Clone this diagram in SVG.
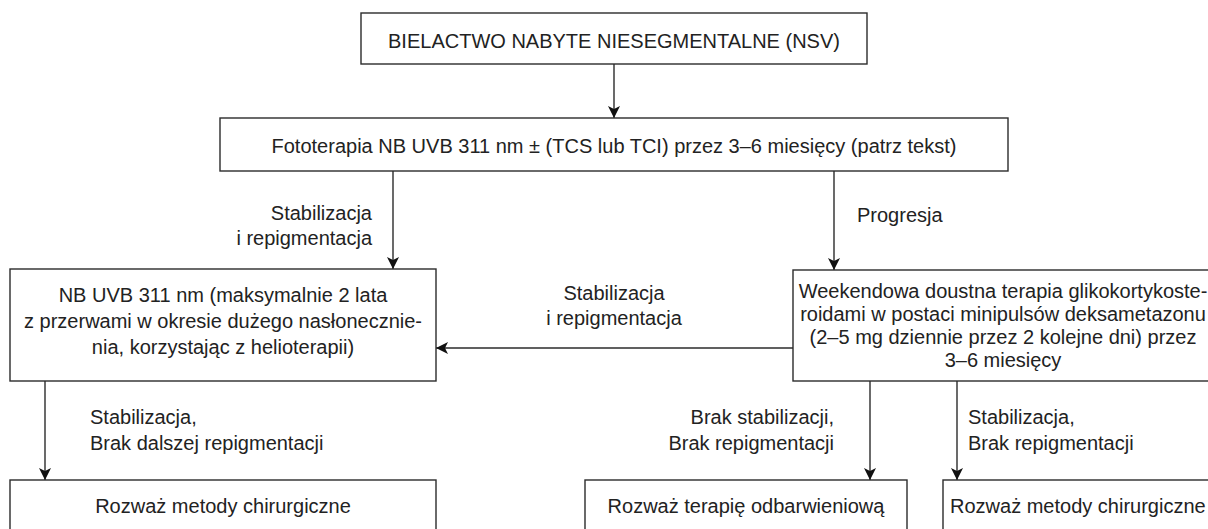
<svg xmlns="http://www.w3.org/2000/svg" width="1208" height="529" viewBox="0 0 1208 529">
<style>
.box{fill:#fff;stroke:#2b2b2b;stroke-width:1.4}
.t{font-family:"Liberation Sans",Arial,sans-serif;font-size:20px;fill:#222}
.c{text-anchor:middle}
.e{text-anchor:end}
.ln{stroke:#2b2b2b;stroke-width:1.4;fill:none;marker-end:url(#ah)}
</style>
<defs>
<marker id="ah" viewBox="0 0 12 12" refX="12" refY="6" markerWidth="12" markerHeight="12" markerUnits="userSpaceOnUse" orient="auto">
<path d="M0,0 L12,6 L0,12 L3,6 z" fill="#111"/>
</marker>
</defs>
<rect width="1208" height="529" fill="#fff"/>
<g id="connectors">
<line class="ln" x1="614" y1="64" x2="614" y2="118"/>
<line class="ln" x1="393" y1="171" x2="393" y2="269"/>
<line class="ln" x1="834" y1="171" x2="834" y2="270"/>
<line class="ln" x1="793" y1="348" x2="436" y2="348"/>
<line class="ln" x1="45" y1="381" x2="45" y2="480"/>
<line class="ln" x1="870" y1="381" x2="870" y2="480"/>
<line class="ln" x1="957" y1="381" x2="957" y2="480"/>
<text class="t e" x="372" y="220">Stabilizacja</text>
<text class="t e" x="372" y="245">i repigmentacja</text>
<text class="t" x="857" y="222">Progresja</text>
<text class="t c" x="614" y="300">Stabilizacja</text>
<text class="t c" x="614" y="325">i repigmentacja</text>
<text class="t" x="90" y="424">Stabilizacja,</text>
<text class="t" x="90" y="450">Brak dalszej repigmentacji</text>
<text class="t e" x="834" y="424">Brak stabilizacji,</text>
<text class="t e" x="834" y="450">Brak repigmentacji</text>
<text class="t" x="968" y="424">Stabilizacja,</text>
<text class="t" x="968" y="450">Brak repigmentacji</text>
</g>
<g id="n1">
<rect class="box" x="361" y="13" width="506" height="51"/>
<text class="t c" x="614" y="48">BIELACTWO NABYTE NIESEGMENTALNE (NSV)</text>
</g>
<g id="n2">
<rect class="box" x="220" y="118" width="788" height="53"/>
<text class="t c" x="614" y="153">Fototerapia NB UVB 311 nm ± (TCS lub TCI) przez 3–6 miesięcy (patrz tekst)</text>
</g>
<g id="n3">
<rect class="box" x="10" y="269" width="426" height="112"/>
<text class="t c" x="223" y="302">NB UVB 311 nm (maksymalnie 2 lata</text>
<text class="t c" x="223" y="328">z przerwami w okresie dużego nasłonecznie-</text>
<text class="t c" x="223" y="354">nia, korzystając z helioterapii)</text>
</g>
<g id="n4">
<rect class="box" x="793" y="270" width="430" height="111"/>
<text class="t c" x="1003" y="298">Weekendowa doustna terapia glikokortykoste-</text>
<text class="t c" x="1003" y="321">roidami w postaci minipulsów deksametazonu</text>
<text class="t c" x="1003" y="344">(2–5 mg dziennie przez 2 kolejne dni) przez</text>
<text class="t c" x="1003" y="367">3–6 miesięcy</text>
</g>
<g id="n5">
<rect class="box" x="10" y="480" width="426" height="60"/>
<text class="t c" x="223" y="513">Rozważ metody chirurgiczne</text>
</g>
<g id="n6">
<rect class="box" x="585" y="480" width="322" height="60"/>
<text class="t c" x="746" y="513">Rozważ terapię odbarwieniową</text>
</g>
<g id="n7">
<rect class="box" x="943" y="480" width="300" height="60"/>
<text class="t" x="950" y="513">Rozważ metody chirurgiczne</text>
</g>
</svg>
